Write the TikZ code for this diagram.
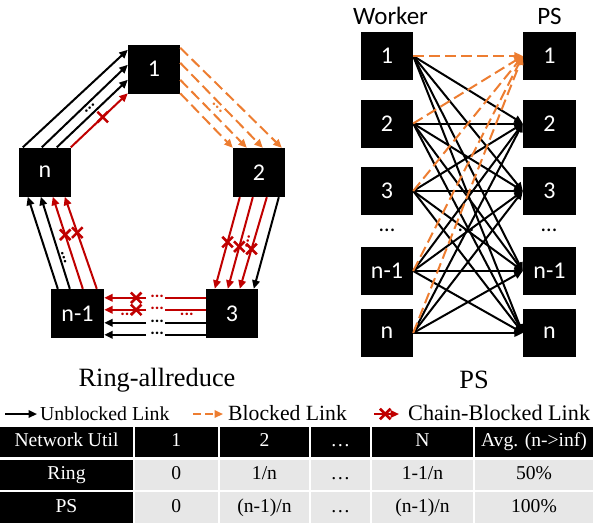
\documentclass[tikz,border=0pt]{standalone}
\usepackage{fontspec}
\setmainfont{Liberation Serif}
\setsansfont{Carlito}
\usetikzlibrary{arrows.meta,calc,shapes.misc}
\definecolor{chainred}{RGB}{192,0,0}
\definecolor{blockorange}{RGB}{237,125,49}
\definecolor{cellgray}{RGB}{231,231,231}
\newcommand{\fsz}[1]{\fontsize{#1}{#1}\selectfont}

\begin{document}
\begin{tikzpicture}[x=1pt,y=-1pt,
  box/.style={fill=black,text=white,minimum width=52pt,minimum height=49pt,inner sep=0pt,font=\sffamily\fsz{24}},
  tip/.style={-{Triangle[length=8.5pt,width=7.5pt]}},
  blk/.style={tip,line width=2pt,black},
  org/.style={tip,line width=2pt,blockorange,dash pattern=on 11pt off 5pt},
  chn/.style={tip,line width=2pt,chainred},
  seg/.style={line width=2pt},
  xm/.style={cross out,draw=chainred,line width=2.6pt,minimum size=8pt,inner sep=0pt},
  dts/.style={font=\sffamily\bfseries\fsz{17},inner sep=0pt},
  lbl/.style={font=\sffamily\fsz{25},inner sep=0pt,anchor=base},
  captxt/.style={font=\fsz{26.4},inner sep=0pt},
  cell/.style={inner sep=0pt,font=\fsz{19.6},text height=13.5pt,text depth=4.5pt},
  cellk/.style={cell,fill=black,text=white},
  cellg/.style={cell,fill=cellgray,text=black},
]
\useasboundingbox (0,0) rectangle (593,523);

% ---------------- Ring-allreduce ----------------
\node[box] (r1) at (154,69) {1};
\node[box] (rn) at (45,172) {n};
\node[box] (r2) at (259,172.5) {2};
\node[box,minimum width=53pt] (rn1) at (77.5,313.5) {n-1};
\node[box] (r3) at (232,313.5) {3};

% n -> 1
\foreach \a/\b in {4/5.5,23/20.5,38/35.5}
  \draw[blk] ($(rn.north west)+(\a,0)$) -- ($(r1.north west)+(0,\b)$);
\draw[chn] ($(rn.north west)+(52,0)$) -- node[xm,pos=.56] (xa) {} ($(r1.north west)+(0,49)$);
\node[dts,rotate=43] (da) at ($(rn.north west)+(71,-39)$) {...};

% 1 -> 2
\foreach \a/\b in {3.5/49,18.5/30,35.5/14,49/0}
  \draw[org] ($(r1.north east)+(0,\a)$) -- ($(r2.north west)+(\b,0)$);
\node[dts,rotate=-45,text=blockorange] (db) at ($(r1.south east)+(37,14)$) {...};

% 2 -> 3
\foreach \a/\b/\p [count=\i] in {7/9/.49,20/22/.54,34/34/.565}
  \draw[chn] ($(r2.south west)+(\a,0)$) -- node[xm,pos=\p] (xb\i) {} ($(r3.north west)+(\b,0)$);
\draw[blk] ($(r2.south west)+(46,0)$) -- ($(r3.north west)+(48,0)$);
\node[dts,rotate=75,text=chainred] (dc) at ($(r2.south west)+(15,44)$) {...};

% 3 -> n-1 (broken lines)
\foreach \y/\c [count=\i] in {9/chainred,21/chainred,34/black,46/black}{
  \draw[seg,\c] ($(r3.north west)+(0,\y)$) -- ($(r3.north west)+(-41,\y)$);
  \draw[tip,seg,\c] ($(rn1.north east)+(42,\y)$) -- ($(rn1.north east)+(0,\y)$);
  \node[dts,text=\c] (dd\i) at ($(rn1.north east)+(53,\y-1)$) {...};
}
\node[xm] (xc1) at ($(rn1.north east)+(32,9)$) {};
\node[xm] (xc2) at ($(rn1.north east)+(32,21)$) {};
\node[dts,text=chainred] (de1) at ($(rn1.north east)+(23,26)$) {...};
\node[dts,text=chainred] (de2) at ($(r3.north west)+(-19,26)$) {...};

% n-1 -> n
\foreach \a/\b in {7/9,19/22}
  \draw[blk] ($(rn1.north west)+(\a,0)$) -- ($(rn.south west)+(\b,0)$);
\draw[chn] ($(rn1.north west)+(32,0)$) -- node[xm,pos=.587] (xd1) {} ($(rn.south west)+(34,0)$);
\draw[chn] ($(rn1.north west)+(46,0)$) -- node[xm,pos=.61] (xd2) {} ($(rn.south west)+(46,0)$);
\node[dts,rotate=107] (df) at ($(rn1.north west)+(13,-31)$) {...};

\node[captxt] (capring) at (157,380) {Ring-allreduce};

% ---------------- Parameter server ----------------
\node[lbl] (tw) at (390.5,24) {Worker};
\node[lbl] (tp) at (549.5,24) {PS};

\foreach \y/\t [count=\i] in {56/1,123.5/2,191/3,271/n-1,333/n}{
  \node[box,minimum height=48pt] (w\i) at (387,\y) {\t};
  \node[box,minimum height=48pt,minimum width=53pt] (p\i) at (549.5,\y) {\t};
}
\foreach \i in {1,...,5}
  \foreach \j in {2,...,5}
    \draw[blk] (w\i.east) -- (p\j.west);
\foreach \i in {1,...,5}
  \draw[org] (w\i.east) -- (p1.west);

\node[font=\sffamily\fsz{22},inner sep=0pt] (dw) at (387,230) {...};
\node[font=\sffamily\fsz{22},inner sep=0pt] (dm) at (466,230) {...};
\node[font=\sffamily\fsz{22},inner sep=0pt] (dp) at (549,230) {...};

\node[captxt] (capps) at (474,380) {PS};

% ---------------- Legend ----------------
\coordinate (la0) at (5,414);   \coordinate (la1) at (37,414);
\coordinate (lb0) at (193,414); \coordinate (lb1) at (223,414);
\coordinate (lc0) at (374,414); \coordinate (lc1) at (399,414);
\draw[blk] (la0) -- (la1);
\draw[org,dash pattern=on 8pt off 4pt] (lb0) -- (lb1);
\draw[chn] (lc0) -- node[xm,pos=.45] (xl) {} (lc1);
\node[anchor=base west,inner sep=0pt,font=\fsz{19.8}] (t1) at (40,420) {Unblocked Link};
\node[anchor=base west,inner sep=0pt,font=\fsz{21.7}] (t2) at (228,420) {Blocked Link};
\node[anchor=base west,inner sep=0pt,font=\fsz{22.2}] (t3) at (408,420) {Chain-Blocked Link};

% ---------------- Table ----------------
% header row
\node[cellk,minimum width=133pt,minimum height=30pt] (h1) at (66.5,442) {Network Util};
\node[cellk,minimum width=83.5pt,minimum height=30pt] (h2) at (176.25,442) {1};
\node[cellk,minimum width=89pt,minimum height=30pt] (h3) at (264.5,442) {2};
\node[cellk,minimum width=59pt,minimum height=30pt] (h4) at (340.5,442) {\ldots};
\node[cellk,minimum width=101pt,minimum height=30pt] (h5) at (422.5,442) {N};
\node[cellk,minimum width=118pt,minimum height=30pt] (h6) at (534,442) {Avg. (n->inf)};
% Ring row
\node[cellk,minimum width=133pt,minimum height=30pt] (a1) at (66.5,475) {Ring};
\node[cellg,minimum width=83.5pt,minimum height=30pt] (a2) at (176.25,475) {0};
\node[cellg,minimum width=89pt,minimum height=30pt] (a3) at (264.5,475) {1/n};
\node[cellg,minimum width=59pt,minimum height=30pt] (a4) at (340.5,475) {\ldots};
\node[cellg,minimum width=101pt,minimum height=30pt] (a5) at (422.5,475) {1-1/n};
\node[cellg,minimum width=118pt,minimum height=30pt] (a6) at (534,475) {50\%};
% PS row
\node[cellk,minimum width=133pt,minimum height=31pt] (b1) at (66.5,507.5) {PS};
\node[cellg,minimum width=83.5pt,minimum height=31pt] (b2) at (176.25,507.5) {0};
\node[cellg,minimum width=89pt,minimum height=31pt] (b3) at (264.5,507.5) {(n-1)/n};
\node[cellg,minimum width=59pt,minimum height=31pt] (b4) at (340.5,507.5) {\ldots};
\node[cellg,minimum width=101pt,minimum height=31pt] (b5) at (422.5,507.5) {(n-1)/n};
\node[cellg,minimum width=118pt,minimum height=31pt] (b6) at (534,507.5) {100\%};
\end{tikzpicture}
\end{document}
